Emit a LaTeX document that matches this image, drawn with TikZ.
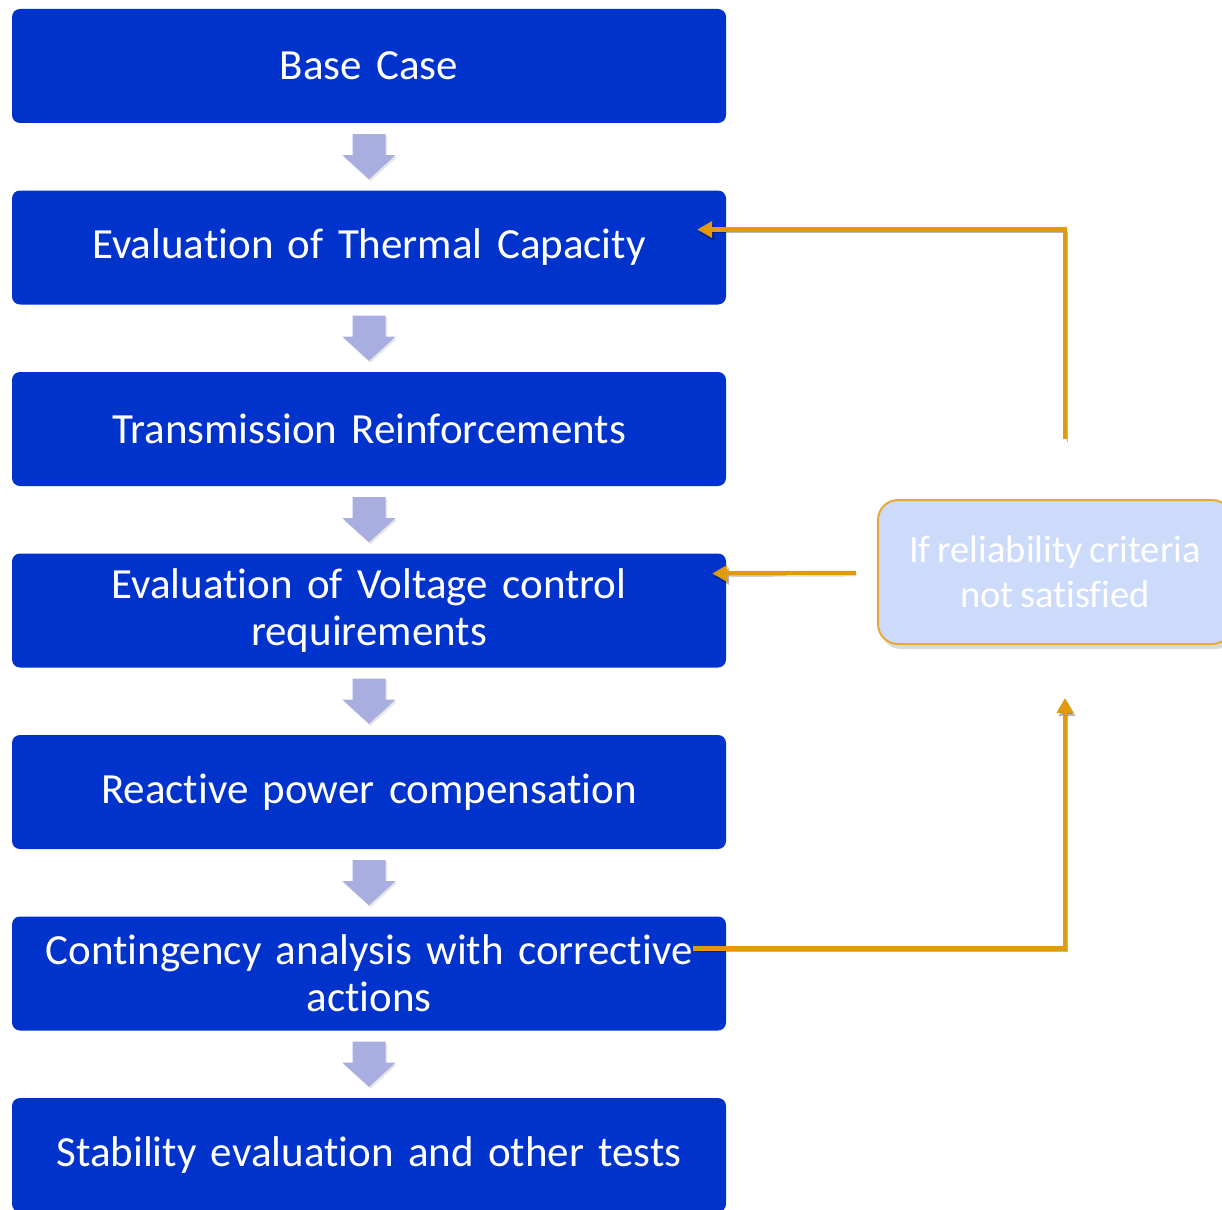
\documentclass[tikz,border=0pt]{standalone}
\usepackage{fontspec}
\setmainfont{Carlito}[Ligatures=NoCommon, WordSpace=0.8]
\usepackage{tikz}
\usetikzlibrary{
    arrows.meta,
    shapes,
    shadows,
    calc,
    positioning,
}
\definecolor{stepblue}{HTML}{0032CC}
\definecolor{flowlilac}{HTML}{A9AEE0}
\definecolor{looporange}{HTML}{E09A0C}
\definecolor{checkfill}{HTML}{CDDBFB}
\definecolor{checkline}{HTML}{E8A93A}

\begin{document}
\begin{tikzpicture}[x=1pt,y=-1pt,>=Stealth]

    \tikzstyle{commonNode}=[align=center, text=white]
    \tikzstyle{stepbox}=[commonNode, rectangle, rounded corners=8pt, fill=stepblue, minimum width=714pt, minimum height=114pt, text width=705pt, font=\fontsize{43}{47}\selectfont]
    \tikzstyle{checkbox}=[commonNode, rectangle, rounded corners=20pt, fill=checkfill, draw=checkline, line width=2pt, minimum width=354pt, minimum height=144pt, font=\fontsize{38.5}{45}\selectfont, drop shadow={shadow xshift=3pt, shadow yshift=-5pt, opacity=0.3}]
    \tikzstyle{flowarrow}=[fill=flowlilac, drop shadow={shadow xshift=1.5pt, shadow yshift=-2pt, opacity=0.2}]
    \tikzstyle{feedback}=[draw=looporange, line width=4.5pt, -{Triangle[length=15pt,width=16pt]},
        preaction={draw=black, opacity=0.28, transform canvas={xshift=2pt,yshift=-3pt}}]

    % Page
    \useasboundingbox (0,0) rectangle (1222,1209);

    \begin{scope}
        % Spacing the steps out
        \def \hcentre {369}
        \def \vstart {66}
        \def \vspacing {181.5}

        % Steps
        \node at (\hcentre, \vstart+0*\vspacing) [stepbox] (base)    {Base Case};
        \node at (\hcentre, \vstart+1*\vspacing) [stepbox] (thermal) {Evaluation of Thermal Capacity};
        \node at (\hcentre, \vstart+2*\vspacing) [stepbox] (trans)   {Transmission Reinforcements};
        \node at (\hcentre, \vstart+3*\vspacing) [stepbox] (voltage) {Evaluation of Voltage control\\requirements};
        \node at (\hcentre, \vstart+4*\vspacing) [stepbox] (reactive){Reactive power compensation};
        \node at (\hcentre, \vstart+5*\vspacing) [stepbox] (conting) {Contingency analysis with corrective\\actions};
        \node at (\hcentre, \vstart+6*\vspacing) [stepbox] (stab)    {Stability evaluation and other tests};

        % Block arrows between the steps
        \foreach \a/\b in {base/thermal, thermal/trans, trans/voltage, voltage/reactive, reactive/conting, conting/stab}
            \fill[flowarrow] ($(\a.south)+(-16.5,11)$) -- ++(33,0) -- ++(0,21) -- ++(10,0)
                -- ($(\b.north)+(0,-11)$) -- ($(\a.south)+(-26.5,32)$) -- ++(10,0) -- cycle;

        % Reliability check
        \node at (1055, 572) [checkbox] (check) {If reliability criteria\\not satisfied};

        % Feedback loop
        \coordinate (thermalIn)  at ($(thermal.east)+(-29,-18)$);
        \coordinate (voltageIn)  at ($(voltage.east)+(-14,-37)$);
        \coordinate (contOut)    at ($(conting.east)+(-33,-25)$);
        \coordinate (checkAbove) at ($(check.north)+(10,-60)$);
        \coordinate (checkBelow) at ($(check.south)+(10,53)$);
        \coordinate (checkLeft)  at ($(check.west)+(-21,1)$);

        \draw[feedback] (checkAbove) |- (thermalIn);
        \draw[feedback] (checkLeft) -- (voltageIn);
        \draw[feedback] (contOut) -| (checkBelow);
    \end{scope}
\end{tikzpicture}
\end{document}
